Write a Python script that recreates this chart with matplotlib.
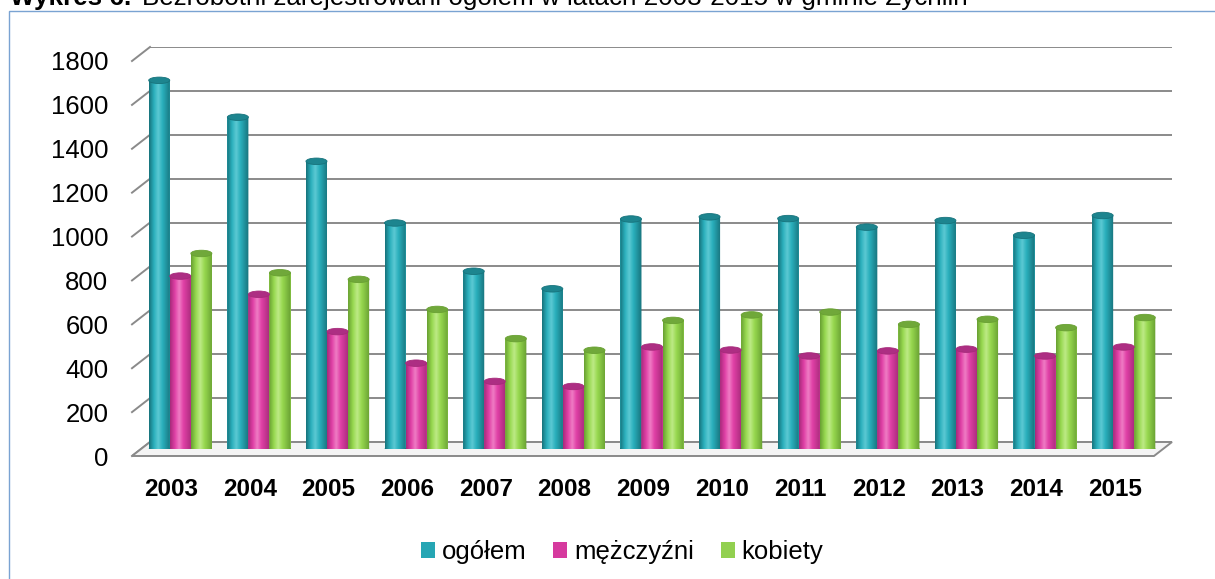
import matplotlib
matplotlib.use("Agg")
import matplotlib.pyplot as plt
import numpy as np
from matplotlib.patches import Ellipse, Polygon, Rectangle, Patch
from matplotlib.colors import LinearSegmentedColormap
from matplotlib.lines import Line2D

plt.rcParams['font.family'] = ['Liberation Sans', 'DejaVu Sans']

years = ['2003', '2004', '2005', '2006', '2007', '2008', '2009',
         '2010', '2011', '2012', '2013', '2014', '2015']
ogolem = [1680, 1512, 1311, 1030, 810, 730, 1048, 1058, 1050, 1011, 1041, 974, 1064]
mezczyzni = [788, 705, 535, 391, 308, 285, 465, 451, 424, 447, 455, 424, 465]
kobiety = [891, 803, 773, 636, 503, 450, 586, 611, 624, 568, 591, 553, 599]
series_names = ['ogółem', 'mężczyźni', 'kobiety']
yticks = [0, 200, 400, 600, 800, 1000, 1200, 1400, 1600, 1800]

# colours: (dark side, main, highlight, top ellipse, legend)
palette = [
    ('#17737c', '#2aafbc', '#5cc9d3', '#1d858f', '#26a6b4'),
    ('#a62a7a', '#e040a6', '#ef7cc4', '#ad2e83', '#d63a9e'),
    ('#68a032', '#97d84f', '#bdea86', '#70a83a', '#92d050'),
]

W, H = 1215, 579
fig = plt.figure(figsize=(W / 100, H / 100), dpi=100)


def rect(l, r, t, b):
    return [l / W, 1 - b / H, (r - l) / W, (b - t) / H]


YMAX = 1800
n = len(years)

# outer border
fig.patches.append(Rectangle((9 / W, -0.1), 1.2, 1 - 11 / H + 0.1, transform=fig.transFigure,
                             fill=False, edgecolor='#7aa3d2', lw=1.0, zorder=0))

# title (cut off at top in the reference)
fig.text(10 / W, 1 - 5.5 / H, 'Wykres 6.', fontsize=18.7, weight='bold', va='baseline', ha='left')
fig.text(142 / W, 1 - 5.5 / H, 'Bezrobotni zarejestrowani ogółem w latach 2003-2015 w gminie Żychlin',
         fontsize=18.7, va='baseline', ha='left')

# back wall axes
ax_back = fig.add_axes(rect(150, 1172, 47, 442), zorder=1)
ax_back.set_xlim(-0.5, n - 0.5)
ax_back.set_ylim(0, YMAX)
ax_back.axis('off')
for v in yticks:
    ax_back.axhline(v, color='#8a8a8a', lw=1.4, zorder=1)

# front plane axes (labels)
ax_front = fig.add_axes(rect(132, 1154, 61, 456), zorder=3)
ax_front.set_xlim(-0.5, n - 0.5)
ax_front.set_ylim(0, YMAX)
ax_front.patch.set_visible(False)
for s in ax_front.spines.values():
    s.set_visible(False)
ax_front.set_yticks(yticks)
ax_front.set_yticklabels([str(v) for v in yticks], fontsize=18.5)
ax_front.set_xticks(np.arange(n))
ax_front.set_xticklabels(years, fontsize=17.5, weight='bold')
ax_front.tick_params(axis='y', length=0, pad=17)
ax_front.tick_params(axis='x', length=0, pad=16)

# bar plane axes
ax = fig.add_axes(rect(141, 1163, 54, 449), zorder=2)
ax.set_xlim(-0.5, n - 0.5)
ax.set_ylim(0, YMAX)
ax.axis('off')

# walls: left diagonals and floor
inv = fig.transFigure.inverted()
fig.canvas.draw()


def to_fig(a, x, y):
    return inv.transform(a.transData.transform((x, y)))


for v in yticks:
    p1 = to_fig(ax_front, -0.5, v)
    p2 = to_fig(ax_back, -0.5, v)
    fig.lines.append(Line2D([p1[0], p2[0]], [p1[1], p2[1]], transform=fig.transFigure,
                            color='#8a8a8a', lw=1.4, zorder=1))

floor_pts = [to_fig(ax_front, -0.5, 0), to_fig(ax_front, n - 0.5, 0),
             to_fig(ax_back, n - 0.5, 0), to_fig(ax_back, -0.5, 0)]
fig.patches.append(Polygon(floor_pts, closed=True, transform=fig.transFigure,
                           facecolor='#f4f4f4', edgecolor='#8a8a8a', lw=1.4, zorder=1))

# cylinders
bw = 0.268
px_per_unit = (449 - 54) / YMAX
ell_h = 6.5 / px_per_unit
x = np.arange(n)
all_series = [ogolem, mezczyzni, kobiety]
grad_pos = np.linspace(0, 1, 64)
for k, vals in enumerate(all_series):
    dark, main, hi, top, _ = palette[k]
    cmap = LinearSegmentedColormap.from_list('c%d' % k, [(0, dark), (0.22, main), (0.42, hi),
                                                          (0.62, main), (1.0, dark)])
    offs = (k - 1) * bw
    bars = ax.bar(x + offs, vals, width=bw, color=main, edgecolor='none', zorder=2 + k * 0.01)
    for b, v in zip(bars, vals):
        x0 = b.get_x()
        # bottom rounding
        eb = Ellipse((x0 + bw / 2, 0), bw, ell_h, facecolor=main, edgecolor='none', zorder=1.9)
        ax.add_patch(eb)
        im = ax.imshow(grad_pos[None, :], cmap=cmap, aspect='auto',
                       extent=(x0, x0 + bw, -ell_h / 2, v), zorder=2.1 + k * 0.01,
                       interpolation='bilinear')
        clip = Rectangle((x0, 0), bw, v, transform=ax.transData)
        # clip to bar + bottom ellipse
        from matplotlib.path import Path
        rp = Rectangle((x0, 0), bw, v).get_path().transformed(Rectangle((x0, 0), bw, v).get_patch_transform())
        ep = Ellipse((x0 + bw / 2, 0), bw, ell_h)
        epath = ep.get_path().transformed(ep.get_patch_transform())
        cpath = Path.make_compound_path(rp, epath)
        from matplotlib.patches import PathPatch
        cp = PathPatch(cpath, transform=ax.transData)
        im.set_clip_path(cp)
        et = Ellipse((x0 + bw / 2, v), bw, ell_h, facecolor=top, edgecolor=dark, lw=0.6,
                     zorder=2.3 + k * 0.01)
        ax.add_patch(et)
ax.set_xlim(-0.5, n - 0.5)
ax.set_ylim(0, YMAX)

# legend
handles = [Patch(facecolor=palette[k][4], edgecolor='none') for k in range(3)]
fig.legend(handles, series_names, loc='center', bbox_to_anchor=(622 / W, 1 - 552 / H),
           ncol=3, frameon=False, fontsize=18.5, handlelength=0.55, handleheight=0.55,
           handletextpad=0.25, columnspacing=1.05, borderaxespad=0)

fig.savefig('out.png', dpi=100)
